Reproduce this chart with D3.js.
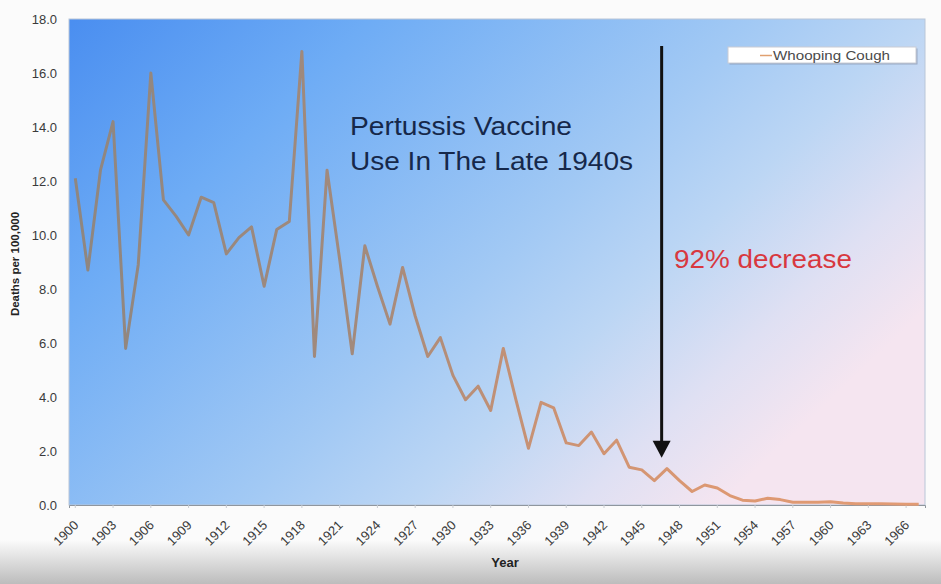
<!DOCTYPE html>
<html>
<head>
<meta charset="utf-8">
<script src="https://cdn.jsdelivr.net/npm/d3@7"></script>
<style>
  html, body { margin: 0; padding: 0; background: #fbfbfb; }
  svg { display: block; font-family: "Liberation Sans", Arial, sans-serif; }
</style>
</head>
<body>
<script>
// data
const years = d3.range(1900, 1968).map(String);
const deaths = [
  12.1, 8.7, 12.4, 14.2, 5.8, 8.9, 16.0, 11.3, 10.7, 10.0,
  11.4, 11.2, 9.3, 9.9, 10.3, 8.1, 10.2, 10.5, 16.8, 5.5,
  12.4, 9.1, 5.6, 9.6, 8.1, 6.7, 8.8, 7.0, 5.5, 6.2,
  4.8, 3.9, 4.4, 3.5, 5.8, 3.9, 2.1, 3.8, 3.6, 2.3,
  2.2, 2.7, 1.9, 2.4, 1.4, 1.3, 0.9, 1.35, 0.9, 0.5,
  0.74, 0.63, 0.35, 0.18, 0.15, 0.25, 0.2, 0.1, 0.1, 0.1,
  0.12, 0.07, 0.05, 0.05, 0.05, 0.04, 0.03, 0.03
];
const yTicks = d3.range(0, 18.1, 2);
const xTickLabels = years.filter((d, i) => i % 3 === 0);
const seriesName = "Whooping Cough";

const W = 941, H = 584;
const m = { left: 69, right: 16, top: 19, bottom: 79 };

const svg = d3.select("body").append("svg").attr("width", W).attr("height", H);
const defs = svg.append("defs");

// bottom grey vignette (from the video grab)
const vg = defs.append("linearGradient").attr("id", "vign")
  .attr("x1", 0).attr("y1", 0).attr("x2", 0).attr("y2", 1);
vg.append("stop").attr("offset", 0).attr("stop-color", "#fbfbfb");
vg.append("stop").attr("offset", 1).attr("stop-color", "#bcbcbc");
svg.append("rect").attr("x", 0).attr("y", 540).attr("width", W).attr("height", H - 540)
  .attr("fill", "url(#vign)");

// plot background
const bg = defs.append("linearGradient").attr("id", "plotbg")
  .attr("x1", 0).attr("y1", 0).attr("x2", 1).attr("y2", 0.6);
[[0, "#4a8ef0"], [0.26, "#6eacf5"], [0.59, "#a2c9f4"], [0.735, "#bcd6f4"],
 [0.88, "#dfe0f3"], [1, "#f5e5f0"]].forEach(s =>
  bg.append("stop").attr("offset", s[0]).attr("stop-color", s[1]));

const x = d3.scaleBand().domain(years).range([m.left, W - m.right]);
const y = d3.scaleLinear().domain([0, 18]).range([H - m.bottom, m.top]);
const cx = d => x(d) + x.bandwidth() / 2;

// line colour: greyish over the strong blue, orange-tan over the light part
const lgd = defs.append("linearGradient").attr("id", "linecol")
  .attr("gradientUnits", "userSpaceOnUse")
  .attr("x1", m.left).attr("y1", 0).attr("x2", W - m.right).attr("y2", 0);
[[0, "#8e8680"], [0.35, "#a38a7c"], [0.55, "#c99274"], [0.75, "#dc9872"], [1, "#e29b74"]]
  .forEach(s => lgd.append("stop").attr("offset", s[0]).attr("stop-color", s[1]));

svg.append("rect")
  .attr("x", m.left).attr("y", m.top)
  .attr("width", W - m.left - m.right).attr("height", y(0) - m.top)
  .attr("fill", "url(#plotbg)")
  .attr("stroke", "#b9c6d8").attr("stroke-width", 1);

// y axis
const yAxis = svg.append("g").attr("transform", `translate(${m.left},0)`)
  .call(d3.axisLeft(y).tickValues(yTicks).tickFormat(d3.format(".1f")).tickSize(0).tickPadding(12));
yAxis.select(".domain").remove();
yAxis.selectAll("text").attr("font-size", 13).attr("fill", "#3a3a3a");

// x axis
const xAxis = svg.append("g").attr("transform", `translate(0,${y(0)})`)
  .call(d3.axisBottom(x).tickValues(xTickLabels).tickSize(3));
xAxis.select(".domain").attr("stroke", "#8f969e");
xAxis.selectAll(".tick line").attr("stroke", "#c8ccd2");
xAxis.selectAll("text")
  .attr("font-size", 13).attr("fill", "#3a3a3a")
  .attr("text-anchor", "end")
  .attr("x", 0).attr("y", 0).attr("dy", 0)
  .attr("transform", "translate(4,21) rotate(-45)");

// axis titles
svg.append("text")
  .attr("transform", `translate(19,${(m.top + y(0)) / 2 + 2}) rotate(-90)`)
  .attr("text-anchor", "middle")
  .attr("font-size", 11.5).attr("font-weight", "bold").attr("fill", "#222")
  .text("Deaths per 100,000");
svg.append("text")
  .attr("x", 505).attr("y", 567)
  .attr("text-anchor", "middle")
  .attr("font-size", 13).attr("font-weight", "bold").attr("fill", "#222")
  .text("Year");

// line
const line = d3.line().x((d, i) => cx(years[i])).y(d => y(d));
svg.append("path").datum(deaths)
  .attr("d", line)
  .attr("fill", "none")
  .attr("stroke", "url(#linecol)")
  .attr("stroke-width", 3)
  .attr("stroke-linejoin", "round");

// annotations
const note = svg.append("text")
  .attr("font-size", 25).attr("fill", "#16284a");
note.append("tspan").attr("x", 350).attr("y", 135)
  .attr("textLength", 222).attr("lengthAdjust", "spacingAndGlyphs")
  .text("Pertussis Vaccine");
note.append("tspan").attr("x", 350).attr("y", 170)
  .attr("textLength", 283).attr("lengthAdjust", "spacingAndGlyphs")
  .text("Use In The Late 1940s");

const ax = (cx("1946") + cx("1947")) / 2 + 1;
const arrowTop = y(17.0), arrowTip = y(1.75);
svg.append("line")
  .attr("x1", ax).attr("x2", ax)
  .attr("y1", arrowTop).attr("y2", arrowTip - 14)
  .attr("stroke", "#111").attr("stroke-width", 3);
svg.append("path")
  .attr("d", `M${ax - 9},${arrowTip - 17} L${ax + 9},${arrowTip - 17} L${ax},${arrowTip} Z`)
  .attr("fill", "#111");

svg.append("text")
  .attr("x", 674).attr("y", 268)
  .attr("font-size", 25).attr("fill", "#d8383f")
  .attr("textLength", 178).attr("lengthAdjust", "spacingAndGlyphs")
  .text("92% decrease");

// legend
const lg = svg.append("g").attr("transform", "translate(728,47)");
lg.append("rect").attr("x", 1.5).attr("y", 1.5).attr("width", 188).attr("height", 16)
  .attr("fill", "#7f8ea8").attr("opacity", 0.6);
lg.append("rect").attr("width", 188).attr("height", 16)
  .attr("fill", "#fff").attr("stroke", "#c9ccd4");
lg.append("line").attr("x1", 32).attr("x2", 44).attr("y1", 8.5).attr("y2", 8.5)
  .attr("stroke", "#e0a070").attr("stroke-width", 1.5);
lg.append("text").attr("x", 45).attr("y", 12.5)
  .attr("font-size", 12).attr("fill", "#4a4a4a")
  .attr("textLength", 117).attr("lengthAdjust", "spacingAndGlyphs")
  .text(seriesName);
</script>
</body>
</html>
